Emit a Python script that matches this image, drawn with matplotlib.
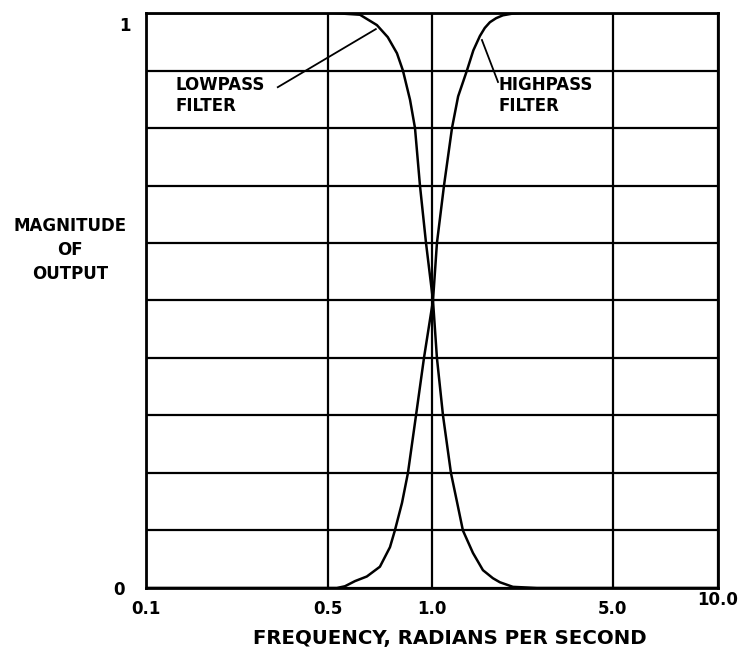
#=========================================================================
# filter-response.py
#=========================================================================

import matplotlib.pyplot as plt
from matplotlib.transforms import ScaledTranslation
import numpy as np

#-------------------------------------------------------------------------
# Configure matplotlib
#-------------------------------------------------------------------------

plt.rcParams['font.family']     = ['DejaVu Sans']
plt.rcParams['font.weight']     = 'bold'
plt.rcParams['axes.labelweight'] = 'bold'
plt.rcParams['font.size']       = 12
plt.rcParams['figure.figsize']  = [ 7.38, 6.47 ]
plt.rcParams['figure.dpi']      = 100

#-------------------------------------------------------------------------
# Raw data
#-------------------------------------------------------------------------

lowpass_x = [ 0.1, 0.517, 0.619, 0.693, 0.745, 0.792, 0.824, 0.864, 0.893,
              0.923, 0.961, 1.009, 1.045, 1.103, 1.184, 1.249, 1.317,
              1.440, 1.574, 1.720, 1.830, 2.055, 2.544, 10.0 ]
lowpass_y = [ 1.0, 1.0, 0.997, 0.979, 0.958, 0.930, 0.900, 0.849, 0.800,
              0.700, 0.600, 0.500, 0.400, 0.300, 0.200, 0.150, 0.100,
              0.061, 0.031, 0.017, 0.010, 0.002, 0.0, 0.0 ]

highpass_x = [ 0.1, 0.531, 0.560, 0.599, 0.648, 0.707, 0.756, 0.781, 0.819,
               0.852, 0.899, 0.948, 1.009, 1.045, 1.113, 1.195, 1.262,
               1.365, 1.445, 1.532, 1.600, 1.675, 1.770, 1.880, 2.050,
               2.246, 10.0 ]
highpass_y = [ 0.0, 0.0, 0.003, 0.012, 0.020, 0.037, 0.071, 0.100, 0.148,
               0.200, 0.300, 0.400, 0.500, 0.600, 0.700, 0.800, 0.855,
               0.900, 0.935, 0.960, 0.974, 0.984, 0.991, 0.996, 0.999,
               1.0, 1.0 ]

xticks      = [ 0.1, 0.5, 1.0, 5.0, 10.0 ]
xticklabels = [ '0.1', '0.5', '1.0', '5.0', '10.0' ]
ygrid       = [ 0.1, 0.2, 0.3, 0.4, 0.5, 0.6, 0.7, 0.8, 0.9 ]

#-------------------------------------------------------------------------
# Frequency scale
#-------------------------------------------------------------------------
# The printed axis is "log-like" but the 0.5 and 5.0 lines sit closer to
# 1.0 than a true log axis would put them, so map log10(x) piecewise.

scale_u = [ -1.0, np.log10(0.5), 0.0, np.log10(5.0), 1.0 ]
scale_f = [ 0.0, 0.318, 0.5, 0.816, 1.0 ]

def fwd( x ):
  x = np.clip( np.asarray( x, dtype=float ), 1e-6, None )
  return np.interp( np.log10( x ), scale_u, scale_f )

def inv( f ):
  return 10.0 ** np.interp( f, scale_f, scale_u )

#-------------------------------------------------------------------------
# Create plot
#-------------------------------------------------------------------------

fig = plt.figure()
ax  = fig.add_axes( [ 0.1978, 0.0912, 0.7751, 0.8887 ] )

ax.set_xscale( 'function', functions=( fwd, inv ) )
ax.set_xlim( 0.1, 10.0 )
ax.set_ylim( 0.0, 1.0 )

# Curves

ax.plot( lowpass_x, lowpass_y, color='k', linewidth=1.8, zorder=3 )
ax.plot( highpass_x, highpass_y, color='k', linewidth=1.8, zorder=3 )

# Grid

ax.set_xticks( xticks )
ax.set_xticklabels( xticklabels )
ax.xaxis.set_minor_locator( plt.NullLocator() )
ax.set_yticks( [ 0, 1 ] )
ax.set_yticklabels( [ '0', '1' ] )
ax.set_yticks( ygrid, minor=True )

ax.grid( True, which='both', color='k', linewidth=1.6 )
ax.tick_params( which='both', length=0 )
ax.tick_params( axis='x', pad=9, labelsize=12 )
ax.tick_params( axis='y', pad=11, labelsize=12 )

for sp in ax.spines.values():
  sp.set_linewidth( 2.0 )

# Nudge a few tick labels to where the original has them

def nudge( lbl, dx, dy ):
  lbl.set_transform( lbl.get_transform() +
                     ScaledTranslation( dx/72.0, dy/72.0, fig.dpi_scale_trans ) )

nudge( ax.get_xticklabels()[-1], 0, 7 )
nudge( ax.get_yticklabels()[1], 0, -8 )
nudge( ax.get_yticklabels()[0], -4, 0 )

# Axis labels

ax.set_xlabel( 'FREQUENCY, RADIANS PER SECOND', fontsize=14.2 )
ax.xaxis.set_label_coords( 0.531, -0.071 )

ax.set_ylabel( 'MAGNITUDE\nOF\nOUTPUT', rotation=0, fontsize=12,
               ha='center', va='center', linespacing=1.42 )
ax.yaxis.set_label_coords( -0.1330, 0.588 )

# Curve callouts

ax.plot( [ 0.688, 0.321 ], [ 0.972, 0.871 ], color='k', linewidth=1.3 )
ax.text( 0.130, 0.857, 'LOWPASS\nFILTER', fontsize=12, ha='left',
         va='center', linespacing=1.2 )

ax.plot( [ 1.56, 1.80 ], [ 0.953, 0.880 ], color='k', linewidth=1.3 )
ax.text( 1.80, 0.857, 'HIGHPASS\nFILTER', fontsize=12, ha='left',
         va='center', linespacing=1.2 )

#-------------------------------------------------------------------------
# Generate PNG
#-------------------------------------------------------------------------

plt.savefig( 'out.png', dpi=100 )
